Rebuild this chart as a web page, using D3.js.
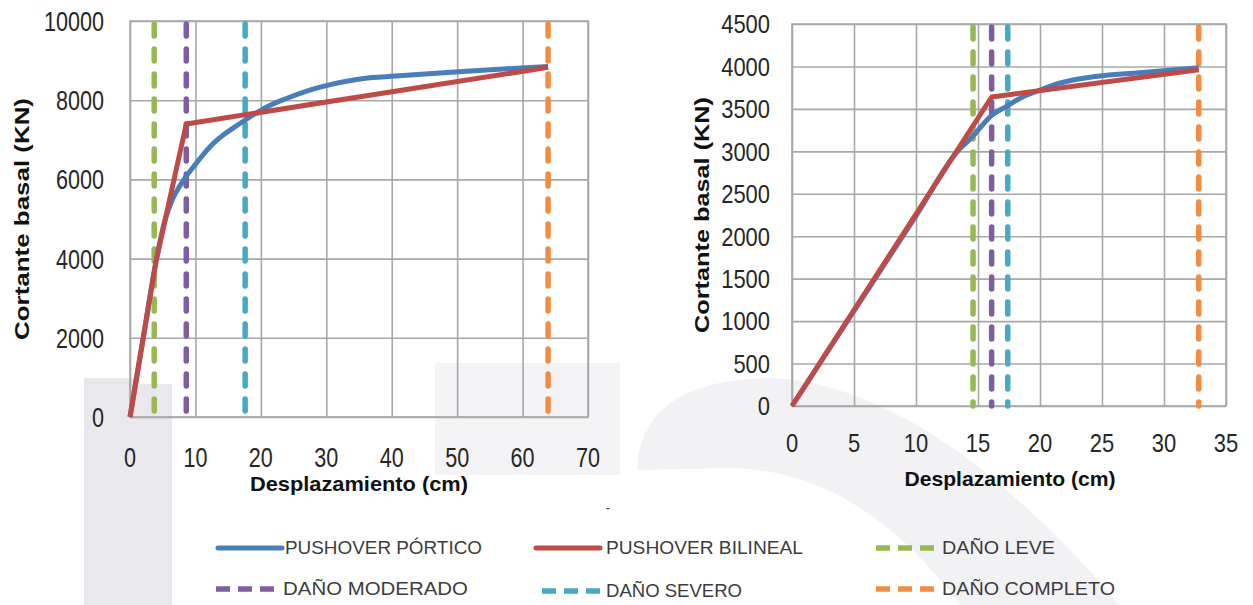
<!DOCTYPE html>
<html>
<head>
<meta charset="utf-8">
<script src="https://cdn.jsdelivr.net/npm/d3@7"></script>
<style>
  html, body { margin: 0; padding: 0; background: #ffffff; }
  svg { display: block; }
</style>
</head>
<body>
<svg id="chart" width="1253" height="605"></svg>
<script>
// ---- Left panel: pushover curves (10000 kN range) ----
const leftXTicks = [0, 10, 20, 30, 40, 50, 60, 70];
const leftYTicks = [0, 2000, 4000, 6000, 8000, 10000];
const leftPorticoX = [0, 2.0, 4.0, 5.4, 6.5, 7.6, 8.6, 10, 12.2, 14.5, 15.8, 17.6, 20.9, 24, 27, 30.3, 35.7, 40.6, 50.2, 57, 63.9];
const leftPorticoY = [0, 1980, 3950, 5000, 5500, 5830, 6080, 6380, 6820, 7150, 7300, 7500, 7830, 8050, 8230, 8380, 8550, 8610, 8720, 8790, 8850];
const leftBilinealX = [0, 4.0, 8.6, 63.9];
const leftBilinealY = [0, 3950, 7400, 8830];
const leftDamage = [3.7, 8.6, 17.6, 63.9];   // leve, moderado, severo, completo

// ---- Right panel: pushover curves (4500 kN range) ----
const rightXTicks = [0, 5, 10, 15, 20, 25, 30, 35];
const rightYTicks = [0, 500, 1000, 1500, 2000, 2500, 3000, 3500, 4000, 4500];
const rightPorticoX = [0, 5, 10, 13.4, 14.6, 15.3, 16.0, 17.3, 18.6, 20, 21.5, 23, 25, 28, 30, 32.8];
const rightPorticoY = [0, 1120, 2240, 3010, 3180, 3300, 3410, 3530, 3640, 3720, 3800, 3850, 3890, 3925, 3950, 3985];
const rightBilinealX = [0, 16.1, 32.8];
const rightBilinealY = [0, 3640, 3960];
const rightDamage = [14.6, 16.1, 17.4, 32.8];

// ---- Legend ----
const legendLabels = ["PUSHOVER PÓRTICO", "PUSHOVER BILINEAL", "DAÑO LEVE",
                      "DAÑO MODERADO", "DAÑO SEVERO", "DAÑO COMPLETO"];

const colors = {
  portico: "#4a7ebb",
  bilineal: "#be4b48",
  damage: ["#97b853", "#7d5fa0", "#48a9c4", "#f28c43"]
};

const svg = d3.select("#chart");

// faint background shapes
const bg = svg.append("g");
bg.append("path").attr("d", "M435 363 L620 363 L620 475 L435 475 Z").attr("fill", "#f4f4f6");
bg.append("path").attr("d", "M84 378 L140 378 L140 384 L172 384 L172 605 L84 605 Z").attr("fill", "#e9e9ed");
bg.append("path")
  .attr("d", "M637 470 Q640 380 770 378 Q930 384 1120 605 L960 605 Q860 470 730 468 Z")
  .attr("fill", "#f2f2f5");

function drawPanel(cfg) {
  const x = d3.scaleLinear().domain(cfg.xDomain).range(cfg.xRange);
  const y = d3.scaleLinear().domain(cfg.yDomain).range(cfg.yRange);
  const g = svg.append("g");

  // grid
  g.append("g")
    .attr("transform", `translate(0,${cfg.yRange[0]})`)
    .call(d3.axisBottom(x).tickValues(cfg.xTicks).tickSize(-(cfg.yRange[0] - cfg.yRange[1])).tickFormat(""))
    .call(a => a.select(".domain").remove())
    .call(a => a.selectAll("line").attr("stroke", "#a8a8a8").attr("stroke-width", 1.6));
  g.append("g")
    .attr("transform", `translate(${cfg.xRange[0]},0)`)
    .call(d3.axisLeft(y).tickValues(cfg.yTicks).tickSize(-(cfg.xRange[1] - cfg.xRange[0])).tickFormat(""))
    .call(a => a.select(".domain").remove())
    .call(a => a.selectAll("line").attr("stroke", "#a8a8a8").attr("stroke-width", 1.6));
  g.append("rect")
    .attr("x", cfg.xRange[0]).attr("y", cfg.yRange[1])
    .attr("width", cfg.xRange[1] - cfg.xRange[0]).attr("height", cfg.yRange[0] - cfg.yRange[1])
    .attr("fill", "none").attr("stroke", "#a8a8a8").attr("stroke-width", 1.6);

  // tick labels
  g.selectAll(".ytl").data(cfg.yTicks).join("text")
    .attr("x", cfg.xRange[0] - cfg.yLabelGap).attr("y", d => y(d))
    .attr("dy", "0.36em").attr("text-anchor", "end")
    .attr("font-family", "Liberation Sans, Arial, sans-serif")
    .attr("font-size", cfg.tickFont).attr("fill", "#262626")
    .attr("textLength", d => String(d).length * cfg.digitW)
    .attr("lengthAdjust", "spacingAndGlyphs")
    .text(d => d);
  g.selectAll(".xtl").data(cfg.xTicks).join("text")
    .attr("x", d => x(d)).attr("y", cfg.xLabelY)
    .attr("dy", "0.36em").attr("text-anchor", "middle")
    .attr("font-family", "Liberation Sans, Arial, sans-serif")
    .attr("font-size", cfg.tickFont).attr("fill", "#262626")
    .attr("textLength", d => String(d).length * cfg.digitW)
    .attr("lengthAdjust", "spacingAndGlyphs")
    .text(d => d);

  // axis titles
  g.append("text")
    .attr("x", cfg.xTitle[0]).attr("y", cfg.xTitle[1]).attr("dy", "0.35em")
    .attr("text-anchor", "middle")
    .attr("font-family", "Liberation Sans, Arial, sans-serif").attr("font-weight", "bold")
    .attr("font-size", 21).attr("fill", "#111")
    .attr("textLength", cfg.xTitle[2]).attr("lengthAdjust", "spacingAndGlyphs")
    .text("Desplazamiento (cm)");
  g.append("text")
    .attr("transform", `translate(${cfg.yTitle[0]},${cfg.yTitle[1]}) rotate(-90)`)
    .attr("dy", "0.35em").attr("text-anchor", "middle")
    .attr("font-family", "Liberation Sans, Arial, sans-serif").attr("font-weight", "bold")
    .attr("font-size", 20).attr("fill", "#111")
    .attr("textLength", cfg.yTitle[2]).attr("lengthAdjust", "spacingAndGlyphs")
    .text("Cortante basal (KN)");

  // damage-state vertical dashed lines
  g.selectAll(".dmg").data(cfg.damage).join("line")
    .attr("x1", d => x(d)).attr("x2", d => x(d))
    .attr("y1", cfg.yRange[1] + 3).attr("y2", cfg.yRange[0])
    .attr("stroke", (d, i) => colors.damage[i])
    .attr("stroke-width", 5.5)
    .attr("stroke-dasharray", "12 13")
    .attr("stroke-linecap", "round");

  // pushover curves
  const porticoPts = cfg.porticoX.map((v, i) => [v, cfg.porticoY[i]]);
  const bilinealPts = cfg.bilinealX.map((v, i) => [v, cfg.bilinealY[i]]);
  g.append("path")
    .attr("d", d3.line().x(d => x(d[0])).y(d => y(d[1])).curve(d3.curveMonotoneX)(porticoPts))
    .attr("fill", "none").attr("stroke", colors.portico).attr("stroke-width", 5)
    .attr("stroke-linejoin", "round");
  g.append("path")
    .attr("d", d3.line().x(d => x(d[0])).y(d => y(d[1])).curve(d3.curveLinear)(bilinealPts))
    .attr("fill", "none").attr("stroke", colors.bilineal).attr("stroke-width", 5)
    .attr("stroke-linejoin", "round");
}

drawPanel({
  xDomain: [0, 70], xRange: [130, 588],
  yDomain: [0, 10000], yRange: [417, 21],
  xTicks: leftXTicks, yTicks: leftYTicks,
  tickFont: 28, digitW: 12, yLabelGap: 26, xLabelY: 457,
  xTitle: [359, 484, 218], yTitle: [22, 219, 242],
  damage: leftDamage,
  porticoX: leftPorticoX, porticoY: leftPorticoY,
  bilinealX: leftBilinealX, bilinealY: leftBilinealY
});

drawPanel({
  xDomain: [0, 35], xRange: [792, 1226],
  yDomain: [0, 4500], yRange: [406, 24],
  xTicks: rightXTicks, yTicks: rightYTicks,
  tickFont: 26, digitW: 12.2, yLabelGap: 22, xLabelY: 443,
  xTitle: [1010, 479, 211], yTitle: [702, 215, 236],
  damage: rightDamage,
  porticoX: rightPorticoX, porticoY: rightPorticoY,
  bilinealX: rightBilinealX, bilinealY: rightBilinealY
});

// legend
const legendItems = [
  { x: 218, y: 548, tx: 285, tw: 197, color: colors.portico, dashed: false },
  { x: 536, y: 548, tx: 606, tw: 197, color: colors.bilineal, dashed: false },
  { x: 876, y: 548, tx: 942, tw: 113, color: colors.damage[0], dashed: true },
  { x: 216, y: 589, tx: 283, tw: 185, color: colors.damage[1], dashed: true },
  { x: 542, y: 591, tx: 606, tw: 136, color: colors.damage[2], dashed: true },
  { x: 876, y: 589, tx: 942, tw: 173, color: colors.damage[3], dashed: true }
];
const lg = svg.append("g");
legendItems.forEach((it, i) => {
  lg.append("line")
    .attr("x1", it.x).attr("x2", it.x + (it.dashed ? 58 : 64))
    .attr("y1", it.y).attr("y2", it.y)
    .attr("stroke", it.color).attr("stroke-width", it.dashed ? 5.5 : 5)
    .attr("stroke-linecap", it.dashed ? "butt" : "round")
    .attr("stroke-dasharray", it.dashed ? "14 8" : null);
  lg.append("text")
    .attr("x", it.tx).attr("y", it.y).attr("dy", "0.36em")
    .attr("font-family", "Liberation Sans, Arial, sans-serif")
    .attr("font-size", 18).attr("fill", "#3c3c3c")
    .attr("textLength", it.tw).attr("lengthAdjust", "spacingAndGlyphs")
    .text(legendLabels[i]);
});
lg.append("text").attr("x", 608).attr("y", 512).attr("text-anchor", "middle")
  .attr("font-family", "Liberation Sans, Arial, sans-serif").attr("font-size", 13)
  .attr("fill", "#333").text("-");
</script>
</body>
</html>
